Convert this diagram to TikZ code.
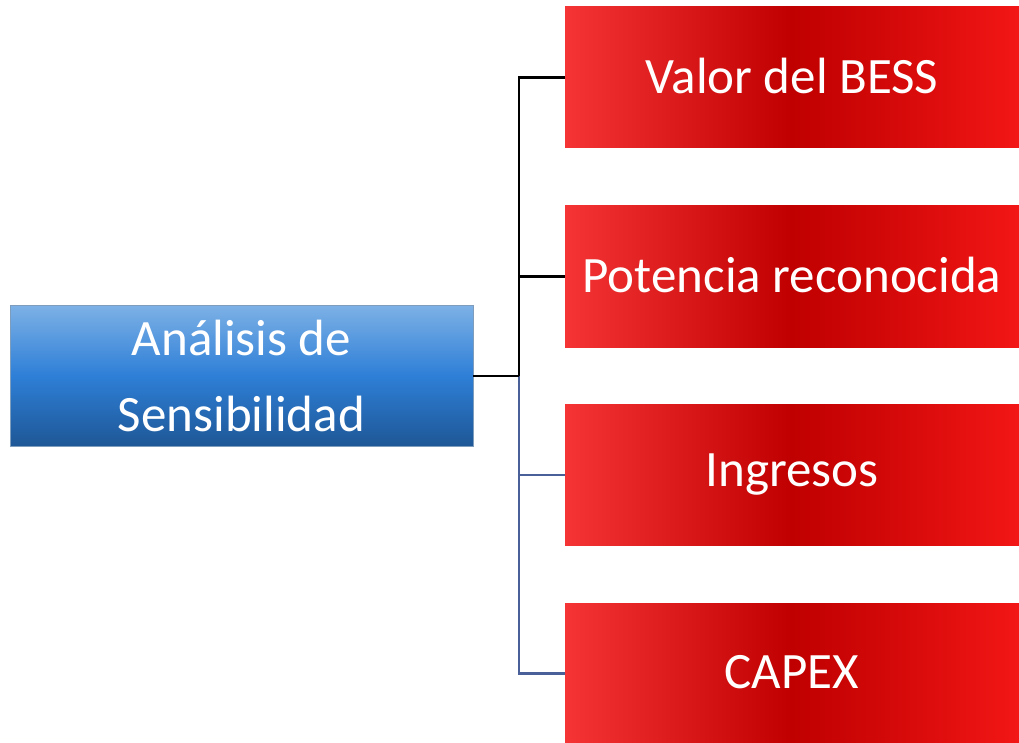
\documentclass[tikz,border=0pt]{standalone}
\usepackage{fontspec}
\setmainfont{Carlito}
\definecolor{redL}{HTML}{F53535}
\definecolor{redM}{HTML}{C00000}
\definecolor{redN}{HTML}{D20808}
\definecolor{redR}{HTML}{F31616}
\definecolor{blueT}{HTML}{7DB1E6}
\definecolor{blueM}{HTML}{2E7FD7}
\definecolor{blueB}{HTML}{1E5796}
\definecolor{linkblue}{HTML}{4A6098}
\pgfdeclarehorizontalshading{redsh}{100bp}{color(0bp)=(redL); color(25bp)=(redL); color(50bp)=(redM); color(60bp)=(redN); color(75bp)=(redR); color(100bp)=(redR)}
\tikzset{
  redbox/.style={rectangle, minimum width=454pt, minimum height=141pt, inner sep=0pt,
    shade, shading=redsh, text=white,
    font=\fontsize{51}{62}\selectfont},
  bluebox/.style={rectangle, minimum width=463pt, minimum height=141pt, inner sep=0pt,
    top color=blueT, bottom color=blueB, middle color=blueM,
    draw=blueT!60!gray, line width=0.5pt, text=white, align=center,
    font=\fontsize{51}{78}\selectfont},
  blk/.style={draw=black, line width=2.8pt},
  blu/.style={draw=linkblue, line width=2.8pt},
}
\begin{document}
\begin{tikzpicture}[x=1pt,y=-1pt]
\useasboundingbox (0,0) rectangle (1019,743);
\node[bluebox] (b) at (241.5,375.5) {Análisis de\\[-2pt]Sensibilidad};
\node[redbox] (r1) at (792,77.5) {\raisebox{3pt}{Valor del BESS}};
\node[redbox] (r2) at (792,276.5) {\raisebox{3pt}{Potencia reconocida}};
\node[redbox] (r3) at (792,475) {\raisebox{3pt}{Ingresos}};
\node[redbox] (r4) at (792,673.5) {\raisebox{3pt}{CAPEX}};
\coordinate (j) at (519,376);
\draw[blu] (j) |- (r3.west);
\draw[blu] (j) |- (r4.west);
\draw[blk] (b.east |- j) -- (j);
\draw[blk] (j) |- (r1.west);
\draw[blk] (j) |- (r2.west);
\end{tikzpicture}
\end{document}
